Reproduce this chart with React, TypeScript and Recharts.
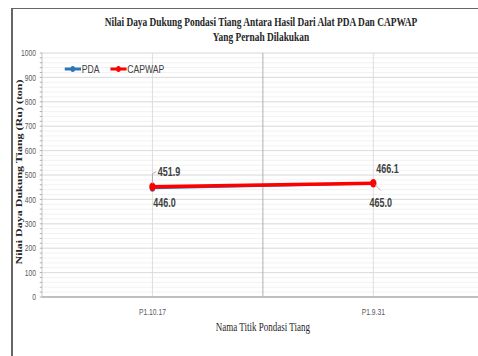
import React from 'react'
import { LineChart, Line, XAxis, YAxis, CartesianGrid, Legend, LabelList, ReferenceLine, Label } from 'recharts'

const categories = ['P1.10.17', 'P1.9.31']
const pdaValues = [446.0, 465.0]
const capwapValues = [451.9, 466.1]
const yTicks = [0, 100, 200, 300, 400, 500, 600, 700, 800, 900, 1000]
const minorTicks = Array.from({ length: 51 }, (_, i) => i * 20)

const data = categories.map((name, i) => ({
  x: i + 0.5,
  name,
  pda: pdaValues[i],
  capwap: capwapValues[i],
}))

const SX = 0.75
const sans = '"Liberation Sans", Arial, sans-serif'
const serif = '"Liberation Serif", "Times New Roman", serif'
const labelColor = '#404040'

const PdaLabel = (props: any) => {
  const { x, y, value, index } = props
  if (index === 0) {
    return (
      <text x={x + 1} y={y + 19} fontSize={12} fontWeight="bold" fontFamily={sans} fill={labelColor}>
        {Number(value).toFixed(1)}
      </text>
    )
  }
  return (
    <g>
      <path d={`M${x + 2},${y + 1} L${x + 10},${y + 7}`} stroke="#a6a6a6" strokeWidth={1} fill="none" />
      <text x={x - 5} y={y + 23} fontSize={12} fontWeight="bold" fontFamily={sans} fill={labelColor}>
        {Number(value).toFixed(1)}
      </text>
    </g>
  )
}

const CapwapLabel = (props: any) => {
  const { x, y, value, index } = props
  if (index === 0) {
    return (
      <g>
        <path d={`M${x},${y - 3} L${x},${y - 13} L${x + 5},${y - 15}`} stroke="#a6a6a6" strokeWidth={1} fill="none" />
        <text x={x + 7} y={y - 11} fontSize={12} fontWeight="bold" fontFamily={sans} fill={labelColor}>
          {Number(value).toFixed(1)}
        </text>
      </g>
    )
  }
  return (
    <text x={x + 4} y={y - 10} fontSize={12} fontWeight="bold" fontFamily={sans} fill={labelColor}>
      {Number(value).toFixed(1)}
    </text>
  )
}

const LegendContent = () => {
  const items = [
    { name: 'PDA', color: '#2e75b6' },
    { name: 'CAPWAP', color: '#ff0000' },
  ]
  return (
    <div style={{ display: 'flex', alignItems: 'center', fontFamily: sans, fontSize: 11.5, color: labelColor }}>
      {items.map((it) => (
        <div key={it.name} style={{ display: 'flex', alignItems: 'center', marginRight: 14 }}>
          <svg width={22} height={10}>
            <line x1={0} y1={5} x2={22} y2={5} stroke={it.color} strokeWidth={3} />
            <circle cx={11} cy={5} r={3} fill={it.color} />
          </svg>
          <span style={{ marginLeft: 1 }}>{it.name}</span>
        </div>
      ))}
    </div>
  )
}

export default function App() {
  return (
    <div style={{ position: 'absolute', left: 0, top: 0, width: 478, height: 356, overflow: 'hidden', background: '#fff' }}>
      <div style={{ position: 'absolute', left: 11, top: 8, right: -5, bottom: -5, borderLeft: '2px solid #666', borderTop: '1px solid #666' }} />
      <div style={{ position: 'absolute', left: 0, top: 0, width: 650, height: 356, transform: `scaleX(${SX})`, transformOrigin: '0 0' }}>
        <div
          style={{
            position: 'absolute', left: 48, top: 15, width: 600, textAlign: 'center',
            fontFamily: serif, fontWeight: 'bold', fontSize: 12.5, lineHeight: '15px', color: '#262626',
          }}
        >
          Nilai Daya Dukung Pondasi Tiang Antara Hasil Dari Alat PDA Dan CAPWAP
          <br />
          Yang Pernah Dilakukan
        </div>
        <LineChart width={650} height={356} data={data} margin={{ top: 53, right: 5, bottom: 29, left: 0 }}>
          <CartesianGrid vertical={false} horizontalValues={minorTicks} stroke="#f0f0f0" />
          <CartesianGrid horizontalValues={yTicks} verticalValues={[0.5, 1.5]} stroke="#d9d9d9" />
          <ReferenceLine x={1} stroke="#a6a6a6" />
          <XAxis
            dataKey="x"
            type="number"
            domain={[0, 2]}
            ticks={[0.5, 1.5]}
            tickFormatter={(v: number) => categories[Math.floor(v)]}
            axisLine={{ stroke: '#bfbfbf', strokeWidth: 2 }}
            tickLine={false}
            tick={{ fontSize: 9, fill: '#595959', fontFamily: sans }}
            tickMargin={6}
          >
            <Label
              content={(p: any) => (
                <text
                  x={p.viewBox.x + p.viewBox.width / 2}
                  y={331}
                  textAnchor="middle"
                  fontFamily={serif}
                  fontSize={12}
                  fill="#262626"
                >
                  Nama Titik Pondasi Tiang
                </text>
              )}
            />
          </XAxis>
          <YAxis
            width={56}
            domain={[0, 1000]}
            ticks={minorTicks}
            interval={0}
            tickFormatter={(v: number) => (v % 100 === 0 ? String(v) : '')}
            axisLine={{ stroke: '#bfbfbf' }}
            tickLine={{ stroke: '#a6a6a6' }}
            tickSize={3}
            tickMargin={5}
            tick={{ fontSize: 9, fill: '#595959', fontFamily: sans }}
          >
            <Label
              content={(p: any) => {
                const cx = 26
                const cy = p.viewBox.y + p.viewBox.height / 2 - 3
                return (
                  <text
                    x={cx}
                    y={cy}
                    transform={`rotate(-90, ${cx}, ${cy})`}
                    textAnchor="middle"
                    dominantBaseline="central"
                    fontFamily={serif}
                    fontWeight="bold"
                    fontSize={12}
                    fill="#262626"
                  >
                    Nilai Daya Dukung Tiang (Ru) (ton)
                  </text>
                )
              }}
            />
          </YAxis>
          <Legend
            layout="horizontal"
            verticalAlign="middle"
            align="center"
            content={<LegendContent />}
            wrapperStyle={{ top: 63, left: 86, width: 'auto' }}
          />
          <Line
            type="linear"
            dataKey="pda"
            name="PDA"
            stroke="#2e75b6"
            strokeWidth={2}
            dot={{ r: 2.5, fill: '#2e75b6', stroke: '#2e75b6' }}
            isAnimationActive={false}
          >
            <LabelList dataKey="pda" content={<PdaLabel />} />
          </Line>
          <Line
            type="linear"
            dataKey="capwap"
            name="CAPWAP"
            stroke="#ff0000"
            strokeWidth={3.5}
            dot={{ r: 2.5, fill: '#ff0000', stroke: '#ff0000' }}
            isAnimationActive={false}
          >
            <LabelList dataKey="capwap" content={<CapwapLabel />} />
          </Line>
        </LineChart>
      </div>
    </div>
  )
}
